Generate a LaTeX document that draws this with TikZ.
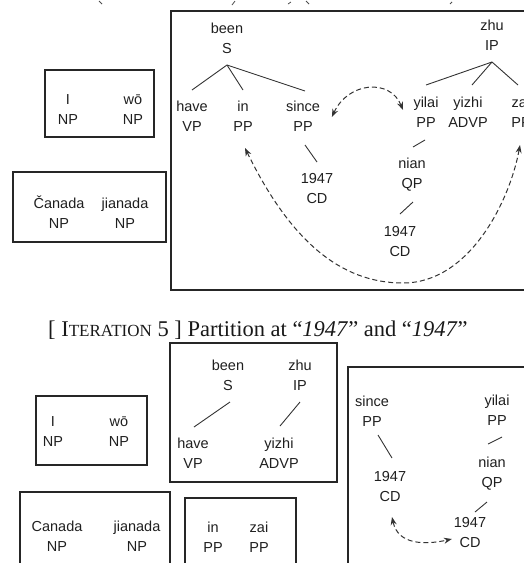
\documentclass[tikz,border=0pt]{standalone}
\usepackage{fontspec}
\setmainfont{Liberation Sans}
\newfontfamily\serifont{Liberation Serif}
\usetikzlibrary{arrows.meta}
\newcommand\tf{\fontsize{14.5}{20}\selectfont}
\newcommand\twol[2]{\strut #1\\\strut #2}
\begin{document}
\begin{tikzpicture}[x=1pt,y=-1pt,
 lbl/.style={align=center,font=\tf,inner sep=0pt,outer sep=0pt,text=black!88},
 box/.style={draw=black!85,line width=1.2pt},
 tree/.style={draw=black!80,line width=0.9pt},
 dsh/.style={draw=black!80,line width=1pt,dash pattern=on 5pt off 3pt,{Stealth[length=8pt,width=6pt]}-{Stealth[length=8pt,width=6pt]}},
 frag/.style={draw=black!70,line width=0.8pt}
]
\useasboundingbox (0,0) rectangle (524,563);
\clip (0,0) rectangle (524,563);

% fragments at the very top
\draw[frag] (99,1) -- (102,4);
\draw[frag] (235,1) -- (232,5);
\draw[frag] (291,2) -- (288,4);
\draw[frag] (306,1) -- (309,4);
\draw[frag] (452,2) -- (450,4);

% ---------- top part ----------
\draw[box] (171,11) rectangle (535,290);
\draw[box] (45,70) rectangle (154,137);
\draw[box] (13,172) rectangle (166,242);

\node[lbl] (I1) at (68,110.5) {\twol{I}{NP}};
\node[lbl] (wo1) at (133,110.5) {\twol{wō}{NP}};
\node[lbl] (ca1) at (59,214.5) {\twol{Čanada}{NP}};
\node[lbl] (ji1) at (125,214.5) {\twol{jianada}{NP}};

\node[lbl] (been1) at (227,39.5) {\twol{been}{S}};
\node[lbl] (zhu1) at (492,36.5) {\twol{zhu}{IP}};
\node[lbl] (have1) at (192,117.5) {\twol{have}{VP}};
\node[lbl] (in1) at (243,117.5) {\twol{in}{PP}};
\node[lbl] (since1) at (303,117.5) {\twol{since}{PP}};
\node[lbl] (yilai1) at (426,113.5) {\twol{yilai}{PP}};
\node[lbl] (yizhi1) at (468,113.5) {\twol{yizhi}{ADVP}};
\node[lbl] (zai1) at (521,113.5) {\twol{zai}{PP}};
\node[lbl] (cdA) at (317,189.5) {\twol{1947}{CD}};
\node[lbl] (nian1) at (412,174.5) {\twol{nian}{QP}};
\node[lbl] (cdB) at (400,242.5) {\twol{1947}{CD}};

\draw[tree] ([yshift=-5.5pt]been1.south) -- ([yshift=7.5pt]have1.north);
\draw[tree] ([yshift=-5.5pt]been1.south) -- ([yshift=7.5pt]in1.north);
\draw[tree] ([yshift=-5.5pt]been1.south) -- ([xshift=2pt,yshift=6.5pt]since1.north);
\draw[tree] ([yshift=-5.5pt]zhu1.south) -- ([yshift=8.5pt]yilai1.north);
\draw[tree] ([yshift=-5.5pt]zhu1.south) -- ([xshift=4pt,yshift=8.5pt]yizhi1.north);
\draw[tree] ([yshift=-5.5pt]zhu1.south) -- ([xshift=-3pt,yshift=8.5pt]zai1.north);
\draw[tree] ([xshift=2pt,yshift=-7.5pt]since1.south) -- ([yshift=7.5pt]cdA.north);
\draw[tree] ([xshift=-1pt,yshift=-6.5pt]yilai1.south) -- ([xshift=1pt,yshift=7.5pt]nian1.north);
\draw[tree] ([xshift=1pt,yshift=-7.5pt]nian1.south) -- ([yshift=8.5pt]cdB.north);

\draw[dsh] ([xshift=12pt,yshift=0.5pt]since1.east) .. controls (348,82) and (390,78) .. ([xshift=-10.5pt,yshift=3.5pt]yilai1.west);
\draw[dsh] ([xshift=2pt,yshift=-10.5pt]in1.south) .. controls (290,240) and (340,283) .. (403,283) .. controls (470,283) and (510,200) .. ([xshift=-1pt,yshift=-11.5pt]zai1.south);

% ---------- title ----------
\node[anchor=base west,inner sep=0pt,text=black!90,font=\serifont\fontsize{22.5}{26}\selectfont] (title) at (48,336)
 {[ I{\fontsize{17}{20}\selectfont TERATION} 5 ] Partition at “\textit{1947}” and “\textit{1947}”};

% ---------- bottom part ----------
\draw[box] (170,343) rectangle (337,482);
\draw[box] (36,396) rectangle (147,465);
\draw[box] (20,492) rectangle (170,575);
\draw[box] (185,498) rectangle (296,575);
\draw[box] (348,367) rectangle (535,575);

\node[lbl] (I2) at (53,432.5) {\twol{I}{NP}};
\node[lbl] (wo2) at (119,432.5) {\twol{wō}{NP}};
\node[lbl] (ca2) at (57,537.5) {\twol{Canada}{NP}};
\node[lbl] (ji2) at (137,537.5) {\twol{jianada}{NP}};
\node[lbl] (in2) at (213,538.5) {\twol{in}{PP}};
\node[lbl] (zai2) at (259,538.5) {\twol{zai}{PP}};

\node[lbl] (been2) at (228,376.5) {\twol{been}{S}};
\node[lbl] (zhu2) at (300,376.5) {\twol{zhu}{IP}};
\node[lbl] (have2) at (193,454.5) {\twol{have}{VP}};
\node[lbl] (yizhi2) at (279,454.5) {\twol{yizhi}{ADVP}};
\draw[tree] ([xshift=2pt,yshift=-5.5pt]been2.south) -- ([xshift=1pt,yshift=7.5pt]have2.north);
\draw[tree] ([yshift=-5.5pt]zhu2.south) -- ([xshift=1pt,yshift=8.5pt]yizhi2.north);

\node[lbl] (since2) at (372,412.5) {\twol{since}{PP}};
\node[lbl] (yilai2) at (497,411.5) {\twol{yilai}{PP}};
\node[lbl] (nian2) at (492,473.5) {\twol{nian}{QP}};
\node[lbl] (cdC) at (390,487.5) {\twol{1947}{CD}};
\node[lbl] (cdD) at (470,533.5) {\twol{1947}{CD}};
\draw[tree] ([xshift=6pt,yshift=-2.5pt]since2.south) -- ([xshift=2pt,yshift=9.5pt]cdC.north);
\draw[tree] ([xshift=5pt,yshift=-5.5pt]yilai2.south) -- ([xshift=-4pt,yshift=9.5pt]nian2.north);
\draw[tree] ([xshift=-5pt,yshift=-8.5pt]nian2.south) -- ([xshift=5pt,yshift=1.5pt]cdD.north);
\draw[dsh] ([xshift=2pt,yshift=-9.5pt]cdC.south) .. controls (398,545) and (425,545) .. ([xshift=-2pt,yshift=-5.5pt]cdD.west);
\end{tikzpicture}
\end{document}
